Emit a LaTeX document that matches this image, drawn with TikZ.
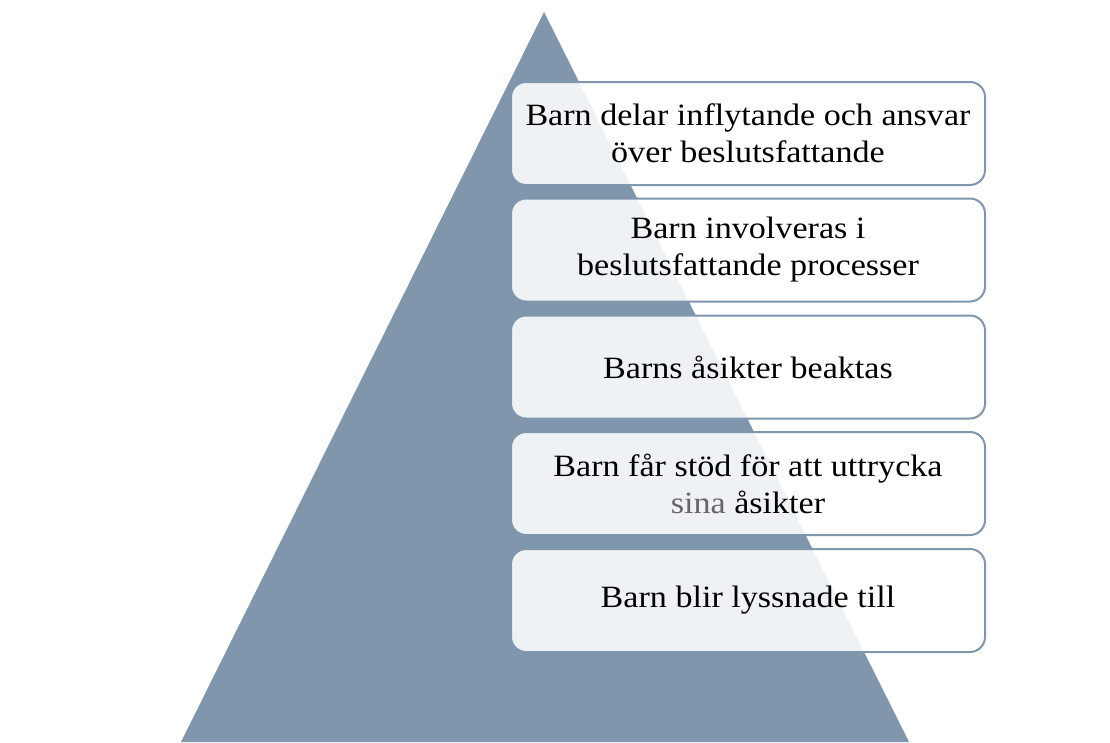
\documentclass[tikz,border=0pt]{standalone}
\usepackage{fontspec}
\setmainfont{Liberation Serif}[FakeStretch=1.1]
\definecolor{pyr}{HTML}{7F96AD}
\definecolor{grey}{HTML}{666666}
\begin{document}
\begin{tikzpicture}[x=1pt,y=-1pt,
  level/.style={draw=pyr, line width=2pt, rounded corners=15pt, fill=white, fill opacity=0.88, text opacity=1,
    minimum width=474pt, minimum height=103pt, align=center, font=\fontsize{31}{37}\selectfont, inner sep=0pt}]
\useasboundingbox (0,0) rectangle (1110,742);
\fill[pyr] (544,12) -- (909,742) -- (181,742) -- cycle;
\node[level] (l1) at (748,133.5) {Barn delar inflytande och ansvar\\över beslutsfattande};
\node[level] (l2) at (748,250) {Barn involveras i\\beslutsfattande processer};
\node[level] (l3) at (748,367) {Barns åsikter beaktas};
\node[level] (l4) at (748,483.5) {Barn får stöd för att uttrycka\\{\color{grey}sina} åsikter};
\node[level] (l5) at (748,600.5) {Barn blir lyssnade till};
\end{tikzpicture}
\end{document}
